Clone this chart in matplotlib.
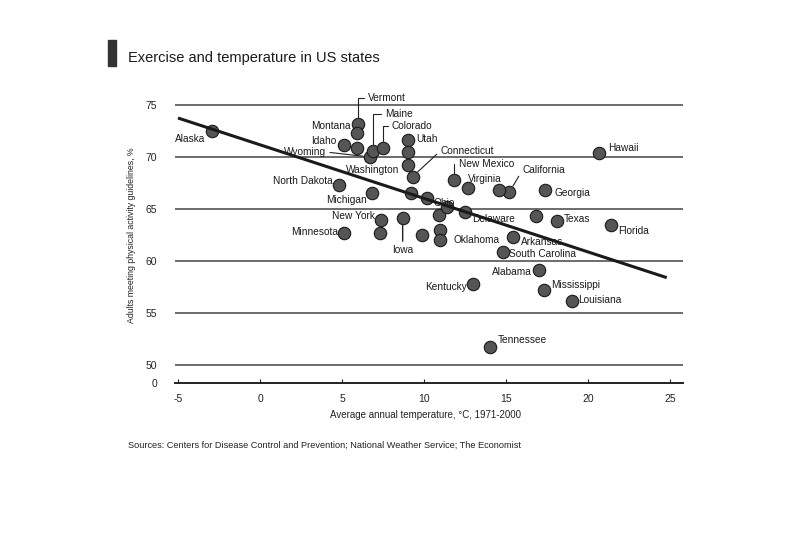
import matplotlib.pyplot as plt
from matplotlib.patches import Rectangle

plt.rcParams['font.family'] = ['Liberation Sans', 'DejaVu Sans']

# one entry per state; '' means the dot has no label
states = ['Alaska', 'Vermont', 'Montana', 'Idaho', '', 'Wyoming', 'Maine', 'Colorado',
          'Utah', '', 'Washington', 'Connecticut', 'New Mexico', 'Virginia', 'California',
          '', 'Georgia', 'Hawaii', 'North Dakota', 'Michigan', '', 'Ohio', '', 'Delaware',
          '', '', 'Texas', 'Florida', 'New York', '', 'Minnesota', 'Iowa', '', '',
          'Oklahoma', 'Arkansas', 'South Carolina', 'Alabama', 'Kentucky', 'Mississippi',
          'Louisiana', 'Tennessee']
temperature = [-2.9, 6.0, 5.9, 5.1, 5.9, 6.7, 6.9, 7.5,
               9.0, 9.0, 9.0, 9.3, 11.8, 12.7, 15.2,
               14.6, 17.4, 20.7, 4.8, 6.8, 9.2, 10.2, 10.9, 12.5,
               11.4, 16.8, 18.1, 21.4, 7.4, 7.3, 5.1, 8.7, 9.9, 11.0,
               11.0, 15.4, 14.8, 17.0, 13.0, 17.3,
               19.0, 14.0]
activity = [72.5, 73.2, 72.3, 71.2, 70.9, 70.0, 70.6, 70.9,
            71.6, 70.5, 69.2, 68.1, 67.8, 67.0, 66.6,
            66.8, 66.8, 70.4, 67.3, 66.5, 66.5, 66.1, 64.4, 64.7,
            65.2, 64.3, 63.8, 63.5, 63.9, 62.7, 62.7, 64.1, 62.5, 63.0,
            62.0, 62.3, 60.9, 59.1, 57.8, 57.2,
            56.2, 51.7]

trend_x = [-5, 24.8]
trend_y = [73.75, 58.4]

x_ticks = [-5, 0, 5, 10, 15, 20, 25]
y_ticks = [50, 55, 60, 65, 70, 75]

# label placement: offset in pixels, alignment, leader type
label_pos = {
    'Alaska': (-7, -8, 'right', None),
    'Vermont': (10, 26, 'left', 'elbow'),
    'Montana': (-6, 7, 'right', None),
    'Idaho': (-7, 4, 'right', None),
    'Wyoming': (-44, 5, 'right', 'line'),
    'Maine': (12, 37, 'left', 'elbow'),
    'Colorado': (9, 22, 'left', 'elbow'),
    'Utah': (9, 1, 'left', None),
    'Washington': (-8, -5, 'right', None),
    'Connecticut': (28, 26, 'left', 'line'),
    'New Mexico': (5, 16, 'left', 'elbow'),
    'Virginia': (0, 9, 'left', None),
    'California': (13, 22, 'left', 'line'),
    'Georgia': (9, -3, 'left', None),
    'Hawaii': (9, 5, 'left', None),
    'North Dakota': (-6, 4, 'right', None),
    'Michigan': (-5, -7, 'right', None),
    'Ohio': (6, -5, 'left', None),
    'Delaware': (7, -7, 'left', None),
    'Texas': (7, 2, 'left', None),
    'Florida': (7, -6, 'left', None),
    'New York': (-6, 4, 'right', None),
    'Minnesota': (-6, 1, 'right', None),
    'Iowa': (0, -32, 'center', 'down'),
    'Oklahoma': (13, 0, 'left', None),
    'Arkansas': (8, -5, 'left', None),
    'South Carolina': (6, -2, 'left', None),
    'Alabama': (-7, -2, 'right', None),
    'Kentucky': (-6, -3, 'right', None),
    'Mississippi': (7, 5, 'left', None),
    'Louisiana': (7, 1, 'left', None),
    'Tennessee': (8, 7, 'left', None),
}

fig = plt.figure(figsize=(8.1, 5.52), dpi=100)
ax = fig.add_axes([175 / 810, (552 - 383) / 552, (683 - 175) / 810, (383 - 90) / 552])

y_bottom = 75 - (383 - 105) / 10.4
ax.set_xlim((175 - 260) / 16.4, (683 - 260) / 16.4)
ax.set_ylim(y_bottom, 75 + 15 / 10.4)

for v in y_ticks:
    ax.axhline(v, color='#444444', lw=1.1, zorder=1)

ax.scatter(temperature, activity, s=80, c='#555555', edgecolors='#1a1a1a',
           linewidths=0.8, zorder=3)
ax.plot(trend_x, trend_y, color='#1a1a1a', lw=2.2, zorder=4, solid_capstyle='butt')

for name, t, a in zip(states, temperature, activity):
    if not name:
        continue
    dx, dy, ha, leader = label_pos[name]
    kw = dict(xy=(t, a), xytext=(dx, dy), textcoords='offset pixels', ha=ha,
              va='center', fontsize=7.3, color='#1a1a1a', zorder=5)
    relx = {'left': 0, 'right': 1, 'center': 0.5}[ha]
    if leader == 'elbow':
        kw['arrowprops'] = dict(arrowstyle='-', lw=0.8, color='#222222',
                                connectionstyle='angle,angleA=0,angleB=90,rad=0',
                                shrinkA=1, shrinkB=5, relpos=(relx, 0.5))
    elif leader == 'line':
        kw['arrowprops'] = dict(arrowstyle='-', lw=0.8, color='#222222',
                                shrinkA=1, shrinkB=5, relpos=(relx, 0.5))
    elif leader == 'down':
        kw['arrowprops'] = dict(arrowstyle='-', lw=1.0, color='#222222',
                                shrinkA=1, shrinkB=5, relpos=(0.5, 1))
    ax.annotate(name, **kw)

for s in ['top', 'right', 'left']:
    ax.spines[s].set_visible(False)
ax.spines['bottom'].set_color('#222222')
ax.spines['bottom'].set_linewidth(1.4)

ax.set_xticks(x_ticks)
ax.set_xticklabels([str(v) for v in x_ticks])
ax.tick_params(axis='x', direction='in', length=3, width=0.8, pad=8,
               labelsize=7.5, colors='#222222')
ax.set_yticks([y_bottom] + y_ticks)
ax.set_yticklabels(['0'] + [str(v) for v in y_ticks])
ax.tick_params(axis='y', length=0, pad=13, labelsize=7.5, colors='#222222')

fig.text(425 / 810, (552 - 415) / 552, 'Average annual temperature, °C, 1971-2000',
         ha='center', va='center', fontsize=7, color='#222222')
fig.text(132 / 810, (552 - 235) / 552, 'Adults meeting physical activity guidelines, %',
         ha='center', va='center', rotation=90, fontsize=6.3, color='#222222')

fig.patches.append(Rectangle((108 / 810, (552 - 66) / 552), 8 / 810, 26 / 552,
                             transform=fig.transFigure, color='#333333'))
fig.text(128 / 810, (552 - 58) / 552, 'Exercise and temperature in US states',
         ha='left', va='center', fontsize=10.5, color='#1a1a1a')
fig.text(128 / 810, (552 - 445) / 552,
         'Sources: Centers for Disease Control and Prevention; National Weather Service; The Economist',
         ha='left', va='center', fontsize=6.6, color='#222222')

fig.savefig('out.png', dpi=100)
